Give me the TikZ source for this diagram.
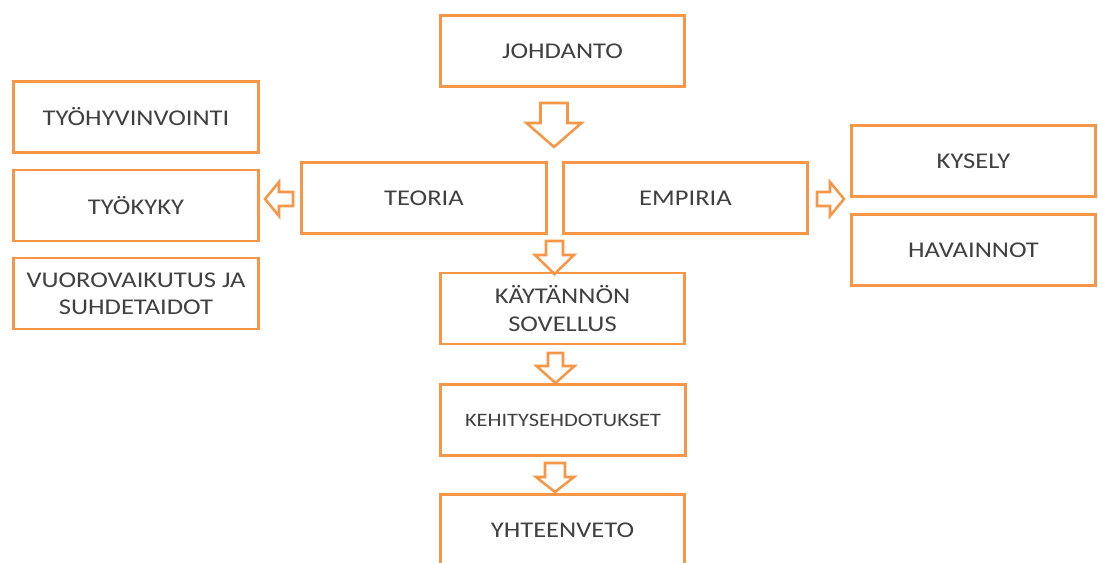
\documentclass[tikz,border=0pt]{standalone}
\usepackage{fontspec}
\setmainfont{Carlito}[FakeStretch=1.18]
\definecolor{boxorange}{HTML}{F79646}

\tikzset{
  box/.style={draw=boxorange, line width=2.1pt, fill=white, minimum width=6.1cm,
    minimum height=1.775cm, inner sep=2pt, align=center, text=black!75,
    font=\fontsize{16}{19.5}\selectfont},
  blockarrow/.style={draw=boxorange, line width=1.8pt, fill=white, line join=miter}
}

\begin{document}
\begin{tikzpicture}[x=0.025cm,y=-0.025cm]
\useasboundingbox (0,0) rectangle (1098,563);

%centre column
\node[box] at (562.5,51)(johdanto){JOHDANTO};
\node[box] at (424,198)(teoria){TEORIA};
\node[box] at (685.5,198)(empiria){EMPIRIA};
\node[box] at (562.5,308.5)(kaytanto){KÄYTÄNNÖN\\SOVELLUS};
\node[box,font=\fontsize{13.5}{16}\selectfont] at (563,420)(kehitys){KEHITYSEHDOTUKSET};
\node[box] at (562.5,530)(yhteenveto){YHTEENVETO};

%left column
\node[box] at (136,117)(hyvinvointi){TYÖHYVINVOINTI};
\node[box] at (136,205.5)(tyokyky){TYÖKYKY};
\node[box] at (136,293.5)(vuoro){VUOROVAIKUTUS JA\\SUHDETAIDOT};

%right column
\node[box] at (973.5,161)(kysely){KYSELY};
\node[box] at (973.5,250)(havainnot){HAVAINNOT};

%down arrows
\foreach \x/\ya/\yb/\yc/\sw/\hw in {554/103/123/147/13.5/27.5, 554.5/241/255/274/8.5/19.5,
    555.5/353/366/383/7.5/19, 555/463/477/492/10/19}{
    \draw[blockarrow] (\x-\sw,\ya) -- (\x+\sw,\ya) -- (\x+\sw,\yb) -- (\x+\hw,\yb)
      -- (\x,\yc) -- (\x-\hw,\yb) -- (\x-\sw,\yb) -- cycle;
}

%side arrows
\draw[blockarrow] (265,199) -- (279,182) -- (279,192) -- (293,192) -- (293,206)
  -- (279,206) -- (279,216) -- cycle;
\draw[blockarrow] (844,199) -- (830,182) -- (830,192) -- (817,192) -- (817,206)
  -- (830,206) -- (830,216) -- cycle;

\end{tikzpicture}
\end{document}
